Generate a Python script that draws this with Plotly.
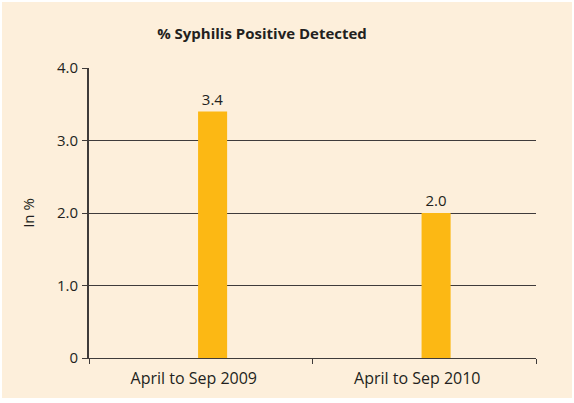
import plotly.graph_objects as go

categories = ["April to Sep 2009", "April to Sep 2010"]
values = [3.4, 2.0]
value_labels = ["3.4", "2.0"]
ytick_vals = [0, 1, 2, 3, 4]
ytick_text = ["0", "1.0", "2.0", "3.0", "4.0"]

FONT = "Open Sans"
DARK = "#231f20"
BG = "#fdefdb"
LINE = "#3f3b3a"

fig = go.Figure()
fig.add_trace(go.Bar(
    x=categories, y=values,
    text=value_labels, textposition="outside",
    textfont=dict(family=FONT, size=15, color=DARK),
    marker=dict(color="#fcb814", line=dict(width=0)),
    width=0.13, offset=-0.012,
    cliponaxis=False,
))

fig.update_layout(
    width=574, height=403,
    margin=dict(l=89, r=38, t=68, b=45),
    paper_bgcolor="white",
    plot_bgcolor="rgba(0,0,0,0)",
    showlegend=False,
    title=dict(text="<b>% Syphilis Positive Detected</b>", x=262 / 574, xanchor="center",
               y=1 - 34 / 403, yanchor="middle",
               font=dict(family=FONT, size=15, color=DARK)),
    shapes=[dict(type="rect", xref="paper", yref="paper",
                 x0=(2 - 89) / 447, x1=(572 - 89) / 447,
                 y0=(358 - 398) / 290, y1=(358 - 2) / 290,
                 fillcolor=BG, line=dict(width=0), layer="below")],
    font=dict(family=FONT, size=15, color=DARK),
)
fig.update_xaxes(
    type="category", tickson="boundaries", ticks="outside", ticklen=5,
    tickcolor=LINE, showline=True, linecolor=LINE, linewidth=1.2,
    showgrid=False, tickfont=dict(family=FONT, size=16, color=DARK),
    ticklabelstandoff=6, ticklabelshift=-7, automargin=False,
)
fig.update_yaxes(
    range=[0, 4], tickvals=ytick_vals, ticktext=ytick_text,
    ticks="outside", ticklen=5, tickcolor=LINE,
    showline=True, linecolor=LINE, linewidth=2,
    showgrid=True, gridcolor="#3f3b3b", gridwidth=1, zeroline=False,
    tickfont=dict(family=FONT, size=15, color=DARK),
    ticklabelstandoff=1, automargin=False,
    title=dict(text="In %", font=dict(family=FONT, size=15, color=DARK), standoff=19),
)
fig.write_html("out.html", config={"displayModeBar": False},
               post_script="document.body.style.margin='0';")
